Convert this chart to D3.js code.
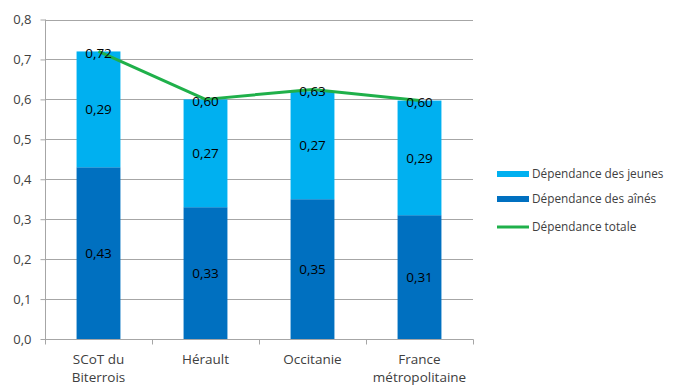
<!DOCTYPE html>
<html><head><meta charset="utf-8">
<script src="https://cdn.jsdelivr.net/npm/d3@7"></script>
<style>body{margin:0;background:#fff}svg{display:block}text{font-family:"Open Sans","Noto Sans",sans-serif}</style>
</head><body><svg id="c" width="673" height="385"></svg>
<script>
const categories = [["SCoT du","Biterrois"],["Hérault"],["Occitanie"],["France","métropolitaine"]];
const aines = [0.43, 0.33, 0.35, 0.31];
const jeunes = [0.29, 0.27, 0.27, 0.287];
const jeunesLabels = ["0,29","0,27","0,27","0,29"];
const totale = [0.72, 0.60, 0.625, 0.597];
const totaleLabels = ["0,72","0,60","0,63","0,60"];
const yTicks = [0,0.1,0.2,0.3,0.4,0.5,0.6,0.7,0.8];
const seriesNames = ["Dépendance des jeunes","Dépendance des aînés","Dépendance totale"];
const colors = {jeunes:"#00b0f0", aines:"#0070c0", tot:"#1fb04a"};

const svg = d3.select("#c");
const fmt = v => v.toFixed(2).replace(".", ",");
const idx = categories.map((d,i)=>i);
const x = d3.scaleBand().domain(idx).range([45,473]).paddingInner(0.59).paddingOuter(0.295);
const xb = d3.scaleBand().domain(idx).range([45,473]);
const y = d3.scaleLinear().domain([0,0.8]).range([339,19.5]);

// gridlines
svg.append("g").selectAll("line").data(yTicks.slice(1)).join("line")
  .attr("x1",45).attr("x2",473).attr("y1",d=>Math.round(y(d))+0.5).attr("y2",d=>Math.round(y(d))+0.5)
  .attr("stroke","#a6a6a6").attr("stroke-width",1);

// bars
const g = svg.append("g");
g.selectAll("rect.a").data(aines).join("rect").attr("class","a")
  .attr("x",(d,i)=>x(i)).attr("width",x.bandwidth())
  .attr("y",d=>y(d)).attr("height",d=>y(0)-y(d)).attr("fill",colors.aines);
g.selectAll("rect.j").data(jeunes).join("rect").attr("class","j")
  .attr("x",(d,i)=>x(i)).attr("width",x.bandwidth())
  .attr("y",(d,i)=>y(aines[i]+d)).attr("height",(d,i)=>y(aines[i])-y(aines[i]+d)).attr("fill",colors.jeunes);

// axes
const yAxis = d3.axisLeft(y).tickValues(yTicks).tickSize(5).tickPadding(9).tickFormat(d=>d.toFixed(1).replace(".",","));
const ya = svg.append("g").attr("transform","translate(45.5,0)").call(yAxis);
ya.select(".domain").attr("stroke","#a6a6a6").attr("d","M0,19.5V339.5");
ya.selectAll(".tick line").attr("stroke","#a6a6a6");
ya.selectAll(".tick text").attr("font-size","13px").attr("fill","#404040").attr("font-family","Open Sans");

const xa = svg.append("g").attr("transform","translate(0,339.5)");
xa.append("line").attr("x1",45).attr("x2",473.5).attr("stroke","#a6a6a6");
xa.selectAll("line.t").data(idx.concat([idx.length])).join("line").attr("class","t")
  .attr("x1",d=>Math.round(45+d*xb.step())+0.5).attr("x2",d=>Math.round(45+d*xb.step())+0.5)
  .attr("y1",0).attr("y2",5).attr("stroke","#a6a6a6");
xa.selectAll("text").data(categories).join("text")
  .attr("x",(d,i)=>xb(i)+xb.bandwidth()/2).attr("y",24)
  .attr("text-anchor","middle").attr("font-size","13.5px").attr("fill","#404040")
  .selectAll("tspan").data(d=>d).join("tspan")
  .attr("x",function(){return this.parentNode.getAttribute("x");})
  .attr("dy",(d,i)=>i===0?0:18).text(d=>d);

// line
const line = d3.line().x((d,i)=>x(i)+x.bandwidth()/2).y(d=>y(d));
svg.append("path").datum(totale).attr("d",line).attr("fill","none")
  .attr("stroke",colors.tot).attr("stroke-width",3).attr("stroke-linejoin","round");

// labels
const lbl = svg.append("g").attr("font-size","13.5px").attr("fill","#000").attr("text-anchor","middle");
lbl.selectAll("text.a").data(aines).join("text").attr("class","a")
  .attr("x",(d,i)=>x(i)+x.bandwidth()/2).attr("y",d=>(y(0)+y(d))/2).attr("dy","0.35em").text(fmt);
lbl.selectAll("text.j").data(jeunes).join("text").attr("class","j")
  .attr("x",(d,i)=>x(i)+x.bandwidth()/2).attr("y",(d,i)=>(y(aines[i])+y(aines[i]+d))/2).attr("dy","0.35em").text((d,i)=>jeunesLabels[i]);
lbl.selectAll("text.t").data(totale).join("text").attr("class","t")
  .attr("x",(d,i)=>x(i)+x.bandwidth()/2).attr("y",d=>y(d)+2).attr("dy","0.35em").text((d,i)=>totaleLabels[i]);

// legend
const leg = svg.append("g").attr("font-size","11.8px").attr("fill","#404040");
const ly = [174,199,227];
leg.append("rect").attr("x",497).attr("y",ly[0]-3).attr("width",32).attr("height",6).attr("fill",colors.jeunes);
leg.append("rect").attr("x",497).attr("y",ly[1]-3).attr("width",32).attr("height",6).attr("fill",colors.aines);
leg.append("line").attr("x1",497).attr("x2",529).attr("y1",ly[2]).attr("y2",ly[2]).attr("stroke",colors.tot).attr("stroke-width",3);
leg.selectAll("text").data(seriesNames).join("text").attr("x",532).attr("y",(d,i)=>ly[i]).attr("dy","0.35em").text(d=>d);
</script></body></html>
